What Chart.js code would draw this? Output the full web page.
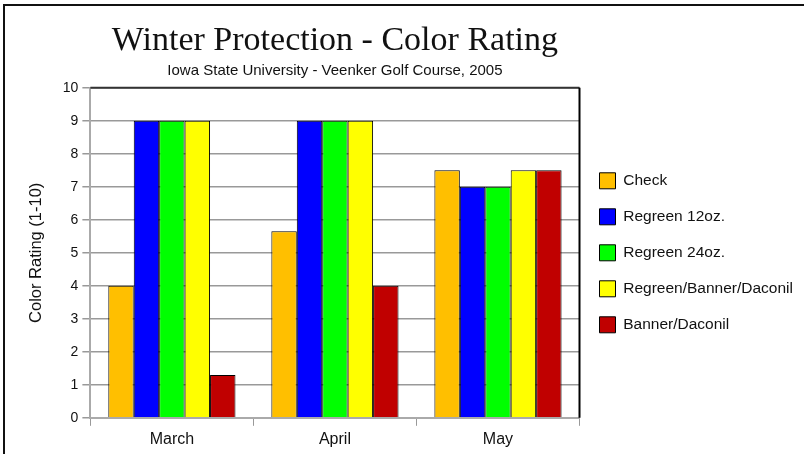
<!DOCTYPE html>
<html>
<head>
<meta charset="utf-8">
<script src="https://cdn.jsdelivr.net/npm/chart.js@4"></script>
<style>
  body { margin: 0; background: #fff; }
  #wrap { position: relative; width: 804px; height: 454px; overflow: hidden; }
  #frame { position: absolute; left: 3px; top: 4px; width: 900px; height: 600px; border: 2px solid #111; }
  canvas { position: absolute; left: 0; top: 0; }
</style>
</head>
<body>
<div id="wrap">
  <div id="frame"></div>
  <canvas id="canvas" width="804" height="454"></canvas>
</div>
<script>
var months = ['March', 'April', 'May'];
var seriesNames = ['Check', 'Regreen 12oz.', 'Regreen 24oz.', 'Regreen/Banner/Daconil', 'Banner/Daconil'];
var check = [4, 5.65, 7.5];
var regreen12 = [9, 9, 7];
var regreen24 = [9, 9, 7];
var regreenBannerDaconil = [9, 9, 7.5];
var bannerDaconil = [1.3, 4, 7.5];
var yTicks = [0, 1, 2, 3, 4, 5, 6, 7, 8, 9, 10];

var colors = ['#FFBF00', '#0000FF', '#00FF00', '#FFFF00', '#C00000'];
var allValues = [check, regreen12, regreen24, regreenBannerDaconil, bannerDaconil];

var sans = '"Liberation Sans Narrow", "Arial Narrow", "Liberation Sans", sans-serif';

// top and right frame of the plot area
var plotFrame = {
    id: 'plotFrame',
    afterDraw: function(chart) {
        var a = chart.chartArea;
        var ctx = chart.ctx;
        ctx.save();
        ctx.strokeStyle = '#333';
        ctx.lineWidth = 2;
        ctx.beginPath();
        ctx.moveTo(a.left, a.top);
        ctx.lineTo(a.right, a.top);
        ctx.stroke();
        ctx.strokeStyle = '#000';
        ctx.beginPath();
        ctx.moveTo(a.right, a.top);
        ctx.lineTo(a.right, a.bottom);
        ctx.stroke();
        ctx.restore();
    }
};

const ctx = document.getElementById('canvas').getContext('2d');
const myChart = new Chart(ctx, {
    type: 'bar',
    data: {
        labels: months,
        datasets: seriesNames.map(function(name, i) {
            return {
                label: name,
                data: allValues[i],
                backgroundColor: colors[i],
                borderColor: '#000',
                borderWidth: 1,
                categoryPercentage: 0.78,
                barPercentage: 1
            };
        })
    },
    options: {
        responsive: false,
        animation: false,
        layout: { padding: { left: 27, right: 1, top: 13, bottom: 1 } },
        plugins: {
            title: {
                display: true,
                fullSize: false,
                text: 'Winter Protection - Color Rating',
                color: '#111',
                font: { family: '"Liberation Serif", "DejaVu Serif", serif', size: 34, weight: 'normal' },
                padding: { top: 8, bottom: 0 }
            },
            subtitle: {
                display: true,
                fullSize: false,
                text: 'Iowa State University - Veenker Golf Course, 2005',
                color: '#111',
                font: { family: sans, size: 15 },
                padding: { top: 0, bottom: 8 }
            },
            legend: {
                position: 'right',
                fullSize: false,
                maxWidth: 300,
                labels: {
                    boxWidth: 16,
                    boxHeight: 16,
                    padding: 20,
                    color: '#111',
                    font: { family: sans, size: 15.5 }
                }
            },
            tooltip: { enabled: false }
        },
        scales: {
            x: {
                grid: { drawOnChartArea: false, color: '#999', tickLength: 8, offset: true },
                border: { color: '#aaa', width: 2 },
                ticks: { color: '#111', font: { family: sans, size: 16 }, padding: 4 },
            },
            y: {
                min: 0,
                max: 10,
                afterBuildTicks: function(axis) {
                    axis.ticks = yTicks.map(function(v) { return { value: v }; });
                },
                grid: { color: '#999', lineWidth: 1.5, tickLength: 8 },
                border: { color: '#aaa', width: 2 },
                ticks: { color: '#111', font: { family: sans, size: 14 }, padding: 4 },
                title: {
                    display: true,
                    text: 'Color Rating (1-10)',
                    color: '#111',
                    font: { family: sans, size: 16.5 },
                    padding: { top: 0, bottom: 12 }
                }
            }
        }
    },
    plugins: [plotFrame]
});
</script>
</body>
</html>
